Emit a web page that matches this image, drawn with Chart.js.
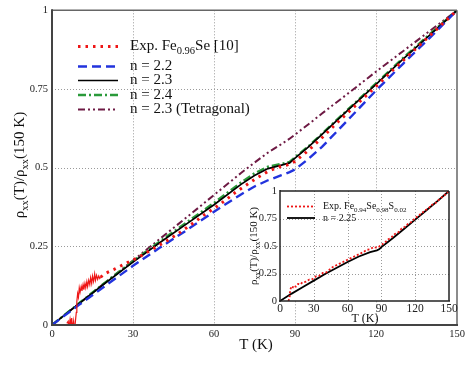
<!DOCTYPE html>
<html><head><meta charset="utf-8">
<script src="https://cdn.jsdelivr.net/npm/chart.js@4.4.0/dist/chart.umd.min.js"></script>
<style>
html,body{margin:0;padding:0;background:#fff;overflow:hidden}
#wrap{position:relative;width:474px;height:366px}
#main{position:absolute;left:0;top:0}
#inset{position:absolute;left:236px;top:176px}
</style></head><body>
<div id="wrap"><canvas id="main" width="474" height="366"></canvas><canvas id="inset" width="226" height="150"></canvas></div>
<script>
// ---------- data (main panel) ----------
const modelT = [0,10,20,30,40,50,60,70,75,80,85,88,90,95,100,110,120,130,140,150];
const n22 = [0,0.064,0.126,0.188,0.246,0.302,0.36,0.415,0.44,0.46,0.476,0.486,0.494,0.528,0.566,0.655,0.745,0.83,0.913,1];
const n23 = [0,0.068,0.135,0.2,0.262,0.322,0.382,0.447,0.475,0.497,0.508,0.515,0.53,0.566,0.606,0.686,0.765,0.845,0.922,1];
const n24 = [0,0.069,0.137,0.203,0.266,0.327,0.388,0.453,0.482,0.503,0.512,0.518,0.533,0.568,0.608,0.688,0.768,0.848,0.925,1];
const n23tet = [0,0.068,0.137,0.205,0.274,0.343,0.413,0.483,0.516,0.548,0.575,0.592,0.605,0.638,0.672,0.738,0.805,0.87,0.935,1];

const expT = [18,20,23,26,29,32,35,38,41,44,47,50,53,56,60,64,68,72,76,80,84,87,90,95,100,105,110,115,120,125,130,135,140,145,150];
const expVals = [0.152,0.165,0.177,0.19,0.203,0.215,0.23,0.245,0.26,0.275,0.292,0.31,0.328,0.348,0.37,0.395,0.422,0.445,0.468,0.488,0.502,0.508,0.52,0.555,0.595,0.638,0.678,0.718,0.758,0.8,0.84,0.88,0.92,0.96,1];

const noiseT = [5.5,6,6.3,6.7,7,7.3,7.6,8,8.3,8.6,9,9.2,9.5,9.8,10.1,10.4,10.8,11.1,11.5,11.8,12.2,12.5,12.9,13.2,13.6,14,14.3,14.7,15,15.4,15.8,16.1,16.5,16.9,17.3,17.7,18];
const noiseVals = [0.005,0.012,-0.008,0.018,0.0,0.022,-0.012,0.012,-0.02,0.006,0.04,0.075,0.1,0.088,0.118,0.104,0.122,0.108,0.128,0.112,0.132,0.118,0.138,0.122,0.142,0.128,0.15,0.132,0.155,0.138,0.162,0.142,0.158,0.145,0.156,0.148,0.152];

// ---------- data (inset) ----------
const insetExpT = [7.5,8.5,9,10,11,12,14,16,18,20,23,26,29,32,35,38,41,44,47,50,53,56,59,62,65,68,71,74,77,80,83,86,88,90,93,96,99,102,105,108,111,114,117,120,123,126,129,132,135,138,141,144,147,150];
const insetExpVals = [0.0,0.03,0.1,0.125,0.115,0.14,0.13,0.155,0.15,0.17,0.175,0.195,0.2,0.225,0.23,0.255,0.26,0.285,0.31,0.325,0.34,0.355,0.37,0.385,0.4,0.415,0.43,0.445,0.465,0.47,0.49,0.485,0.495,0.51,0.53,0.56,0.58,0.61,0.625,0.66,0.675,0.705,0.72,0.755,0.775,0.8,0.825,0.845,0.875,0.89,0.92,0.945,0.97,1.0];
const insetModelT = [0,10,20,30,40,50,60,70,80,86,88,90,100,110,120,130,140,150];
const insetN225 = [0,0.065,0.125,0.185,0.245,0.3,0.355,0.405,0.445,0.46,0.47,0.49,0.57,0.655,0.74,0.825,0.91,1.0];

// ---------- tick definitions ----------
const tStep = 30;
const rhoStep = 0.25;

const SERIF = '"Liberation Serif", "DejaVu Serif", serif';
const RED = '#ee1515', BLUE = '#2233dd', BLACK = '#000000', GREEN = '#2a9a3a', PURPLE = '#6e1a44';

function pts(xs, ys){ return xs.map((t,i)=>({x:t,y:ys[i]})); }

function richWidth(ctx, parts, size){
  let w=0;
  for(const p of parts){ ctx.font = (p.sub? size*0.7 : size)+'px '+SERIF; w+=ctx.measureText(p.t).width; }
  return w;
}
function drawRich(ctx, parts, x, y, size, align){
  ctx.textBaseline='middle'; ctx.textAlign='left';
  let s = x;
  if(align==='center') s = x - richWidth(ctx,parts,size)/2;
  for(const p of parts){
    const fs = p.sub? size*0.7 : size;
    ctx.font = fs+'px '+SERIF;
    ctx.fillText(p.t, s, y + (p.sub? size*0.32 : 0));
    s += ctx.measureText(p.t).width;
  }
}
function hline(ctx,x1,x2,y){ctx.beginPath();ctx.moveTo(x1,y);ctx.lineTo(x2,y);ctx.stroke();}
function vline(ctx,x,y1,y2){ctx.beginPath();ctx.moveTo(x,y1);ctx.lineTo(x,y2);ctx.stroke();}

const yTitleParts = [{t:'ρ'},{t:'xx',sub:true},{t:'(T)/ρ'},{t:'xx',sub:true},{t:'(150 K)'}];

const mainLegend = [
  {ds:0, parts:[{t:'Exp. Fe'},{t:'0.96',sub:true},{t:'Se [10]'}], y:46.5},
  {ds:2, parts:[{t:'n = 2.2'}], y:66.5},
  {ds:3, parts:[{t:'n = 2.3'}], y:80.5},
  {ds:4, parts:[{t:'n = 2.4'}], y:95},
  {ds:5, parts:[{t:'n = 2.3 (Tetragonal)'}], y:109.5}
];
const insetLegend = [
  {ds:0, parts:[{t:'Exp. Fe'},{t:'0.94',sub:true},{t:'Se'},{t:'0.98',sub:true},{t:'S'},{t:'0.02',sub:true}], y:30.5},
  {ds:1, parts:[{t:'n = 2.25'}], y:42}
];

function gridPlugin(opts){
  return {
    id:'deco'+opts.name,
    beforeDatasetsDraw(chart){
      const {ctx, chartArea:a, scales:{x,y}} = chart;
      ctx.save();
      if(opts.fillWhite){ ctx.fillStyle='#fff'; ctx.fillRect(a.left,a.top,a.right-a.left,a.bottom-a.top); }
      ctx.strokeStyle='#9a9a9a'; ctx.lineWidth=1; ctx.setLineDash([1,2]);
      x.ticks.forEach(tk=>{ if(tk.value>x.min && tk.value<x.max){ const p=Math.round(x.getPixelForValue(tk.value))+0.5; vline(ctx,p,a.top,a.bottom);} });
      y.ticks.forEach(tk=>{ if(tk.value>y.min && tk.value<y.max){ const p=Math.round(y.getPixelForValue(tk.value))+0.5; hline(ctx,a.left,a.right,p);} });
      ctx.restore();
    },
    afterDatasetsDraw(chart){
      const {ctx, chartArea:a} = chart;
      ctx.save(); ctx.setLineDash([]);
      ctx.strokeStyle=opts.frameColor2; ctx.lineWidth=opts.frameW2;
      hline(ctx,a.left,a.right,a.top); vline(ctx,a.right,a.top,a.bottom);
      ctx.strokeStyle=opts.frameColor; ctx.lineWidth=opts.frameW;
      vline(ctx,a.left,a.top-1,a.bottom+1); hline(ctx,a.left-1,a.right+1,a.bottom);
      ctx.restore();
    },
    afterDraw(chart){
      const {ctx} = chart;
      ctx.save(); ctx.fillStyle='#111';
      ctx.font = opts.xTitleSize+'px '+SERIF; ctx.textAlign='center'; ctx.textBaseline='middle';
      ctx.fillText('T (K)', opts.xTitle[0], opts.xTitle[1]);
      ctx.save(); ctx.translate(opts.yTitle[0], opts.yTitle[1]); ctx.rotate(-Math.PI/2);
      drawRich(ctx, yTitleParts, 0, 0, opts.yTitleSize, 'center');
      ctx.restore();
      for(const item of opts.legend){
        const ds = chart.data.datasets[item.ds];
        ctx.save();
        ctx.strokeStyle = ds.borderColor; ctx.lineWidth = ds.borderWidth;
        ctx.setLineDash(ds.borderDash||[]);
        hline(ctx, opts.legX[0], opts.legX[1], item.y);
        ctx.restore();
        ctx.fillStyle='#111';
        drawRich(ctx, item.parts, opts.legText, item.y, opts.legSize, 'left');
      }
      ctx.restore();
    }
  };
}

const lineDefaults = {pointRadius:0, fill:false, tension:0, borderCapStyle:'butt'};

new Chart(document.getElementById('main'), {
  type:'line',
  data:{datasets:[
    Object.assign({label:'Exp. Fe0.96Se [10]', data:pts(expT,expVals), borderColor:RED, borderWidth:3, borderDash:[2.5,5]}, lineDefaults),
    Object.assign({label:'Exp. low T', data:pts(noiseT,noiseVals), borderColor:RED, borderWidth:1.2}, lineDefaults),
    Object.assign({label:'n = 2.2', data:pts(modelT,n22), borderColor:BLUE, borderWidth:2.4, borderDash:[9,5]}, lineDefaults),
    Object.assign({label:'n = 2.3', data:pts(modelT,n23), borderColor:BLACK, borderWidth:1.7}, lineDefaults),
    Object.assign({label:'n = 2.4', data:pts(modelT,n24), borderColor:GREEN, borderWidth:2.4, borderDash:[8,3,2,3]}, lineDefaults),
    Object.assign({label:'n = 2.3 (Tetragonal)', data:pts(modelT,n23tet), borderColor:PURPLE, borderWidth:2, borderDash:[7,3,2,3,2,3]}, lineDefaults)
  ]},
  options:{
    responsive:false, animation:false, devicePixelRatio:1,
    layout:{padding:{top:6,right:17,left:0,bottom:0}},
    plugins:{legend:{display:false}, tooltip:{enabled:false}},
    scales:{
      x:{type:'linear', min:0, max:150, afterFit(s){s.height=41;},
         grid:{display:false, drawTicks:false}, border:{display:false},
         ticks:{stepSize:tStep, autoSkip:false, maxRotation:0, padding:3, color:'#222', font:{family:SERIF, size:10.5}}},
      y:{type:'linear', min:0, max:1, afterFit(s){s.width=52;},
         grid:{display:false, drawTicks:false}, border:{display:false},
         ticks:{stepSize:rhoStep, autoSkip:false, padding:4, color:'#222', font:{family:SERIF, size:10.5}, callback:v=>String(v)}}
    }
  },
  plugins:[gridPlugin({name:'main', fillWhite:false, frameColor:'#444', frameW:2, frameColor2:'#666', frameW2:1.5,
    xTitle:[256,345], xTitleSize:15, yTitle:[20,165], yTitleSize:15,
    legend:mainLegend, legX:[78,118], legText:130, legSize:15})]
});

new Chart(document.getElementById('inset'), {
  type:'line',
  data:{datasets:[
    Object.assign({label:'Exp. Fe0.94Se0.98S0.02', data:pts(insetExpT,insetExpVals), borderColor:RED, borderWidth:1.8, borderDash:[2,2]}, lineDefaults),
    Object.assign({label:'n = 2.25', data:pts(insetModelT,insetN225), borderColor:BLACK, borderWidth:1.8}, lineDefaults)
  ]},
  options:{
    responsive:false, animation:false, devicePixelRatio:1,
    layout:{padding:{top:15,right:13,left:0,bottom:0}},
    plugins:{legend:{display:false}, tooltip:{enabled:false}},
    scales:{
      x:{type:'linear', min:0, max:150, afterFit(s){s.height=25;},
         grid:{display:false, drawTicks:false}, border:{display:false},
         ticks:{stepSize:tStep, autoSkip:false, maxRotation:0, padding:1, color:'#222', font:{family:SERIF, size:11.5}}},
      y:{type:'linear', min:0, max:1, afterFit(s){s.width=44;},
         grid:{display:false, drawTicks:false}, border:{display:false},
         ticks:{stepSize:rhoStep, autoSkip:false, padding:3, color:'#222', font:{family:SERIF, size:10.5}, callback:v=>String(v)}}
    }
  },
  plugins:[gridPlugin({name:'inset', fillWhite:true, frameColor:'#222', frameW:1.5, frameColor2:'#222', frameW2:1.5,
    xTitle:[129,143], xTitleSize:12, yTitle:[18,70], yTitleSize:11,
    legend:insetLegend, legX:[51,79], legText:87, legSize:10})]
});
</script>
</body></html>
